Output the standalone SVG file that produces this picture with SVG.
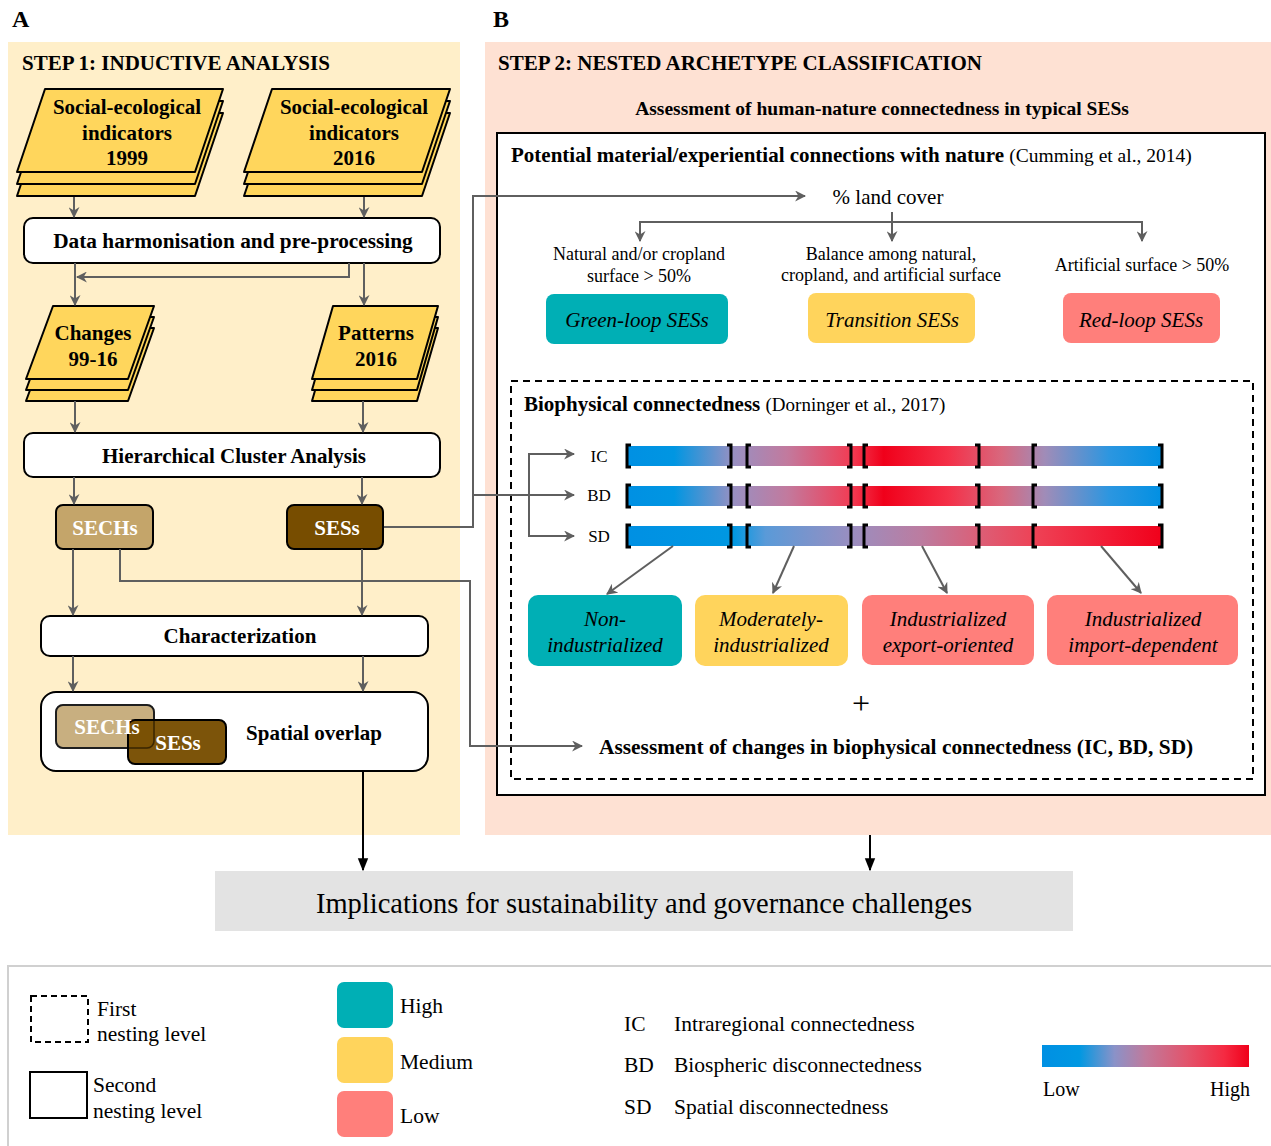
<svg xmlns="http://www.w3.org/2000/svg" width="1271" height="1146" viewBox="0 0 1271 1146">
<defs>
<style>
text{font-family:"Liberation Serif","Times New Roman",serif;fill:#000}
.b{font-weight:bold}
.i{font-style:italic}
.t21{font-size:21px}
.t18{font-size:18px}
.t19{font-size:19px}
.lg{font-size:21.5px}
.mid{text-anchor:middle}
.stk{fill:#FFD65C;stroke:#000;stroke-width:2;stroke-linejoin:round}
.box{fill:#fff;stroke:#000;stroke-width:2}
.con{fill:none;stroke:#5f5f5f;stroke-width:2}
.blk{fill:none;stroke:#000;stroke-width:2}
.brk{fill:none;stroke:#000;stroke-width:3}
.wt{fill:#fff}
</style>
<marker id="ar" viewBox="0 0 10 10" refX="9" refY="5" markerWidth="11" markerHeight="11" markerUnits="userSpaceOnUse" orient="auto">
<path d="M0,0 L10,5 L0,10 L3,5 z" fill="#5f5f5f"/>
</marker>
<marker id="ab" viewBox="0 0 10 10" refX="9" refY="5" markerWidth="13" markerHeight="13" markerUnits="userSpaceOnUse" orient="auto">
<path d="M0,1 L10,5 L0,9 z" fill="#000"/>
</marker>
<linearGradient id="gIC" x1="0" y1="0" x2="1" y2="0">
<stop offset="0" stop-color="#0090E3"/>
<stop offset="0.09" stop-color="#0096E2"/>
<stop offset="0.2" stop-color="#9890C2"/>
<stop offset="0.3" stop-color="#C27A9E"/>
<stop offset="0.42" stop-color="#F23C54"/>
<stop offset="0.48" stop-color="#F0001A"/>
<stop offset="0.6" stop-color="#F43048"/>
<stop offset="0.7" stop-color="#D8687E"/>
<stop offset="0.78" stop-color="#A08CB8"/>
<stop offset="0.9" stop-color="#2C96E0"/>
<stop offset="1" stop-color="#0090E3"/>
</linearGradient>
<linearGradient id="gSD" x1="0" y1="0" x2="1" y2="0">
<stop offset="0" stop-color="#0090E3"/>
<stop offset="0.2" stop-color="#0098E2"/>
<stop offset="0.26" stop-color="#5A9AD8"/>
<stop offset="0.42" stop-color="#9A8EC0"/>
<stop offset="0.55" stop-color="#BC7CA0"/>
<stop offset="0.66" stop-color="#DC5E76"/>
<stop offset="0.76" stop-color="#EE4256"/>
<stop offset="0.9" stop-color="#F21A34"/>
<stop offset="1" stop-color="#F0001A"/>
</linearGradient>
<linearGradient id="gLeg" x1="0" y1="0" x2="1" y2="0">
<stop offset="0" stop-color="#0090E3"/>
<stop offset="0.18" stop-color="#0098E2"/>
<stop offset="0.35" stop-color="#8A92C8"/>
<stop offset="0.5" stop-color="#C07A9C"/>
<stop offset="0.7" stop-color="#E2546C"/>
<stop offset="0.88" stop-color="#F52A42"/>
<stop offset="1" stop-color="#F0001A"/>
</linearGradient>
</defs>

<rect x="0" y="0" width="1271" height="1146" fill="#fff"/>

<g id="panelA">
<rect x="8" y="42" width="452" height="793" fill="#FFEFC9"/>
<text class="b" x="12" y="27" font-size="24">A</text>
<text class="b t21" x="22" y="70">STEP 1: INDUCTIVE ANALYSIS</text>
</g>
<g id="panelB">
<rect x="485" y="42" width="786" height="793" fill="#FEE1D3"/>
<text class="b" x="493" y="27" font-size="24">B</text>
<text class="b t21" x="498" y="70" font-size="21.3">STEP 2: NESTED ARCHETYPE CLASSIFICATION</text>
<text class="b mid" x="882" y="115" font-size="19.5">Assessment of human-nature connectedness in typical SESs</text>
</g>

<g id="stack1999">
<polygon class="stk" points="45,113 223,113 195,196 17,196"/>
<polygon class="stk" points="45,101 223,101 195,184 17,184"/>
<polygon class="stk" points="45,89 223,89 195,172 17,172"/>
<text class="b t21 mid" x="127" y="114">Social-ecological</text>
<text class="b t21 mid" x="127" y="140">indicators</text>
<text class="b t21 mid" x="127" y="165">1999</text>
</g>
<g id="stack2016">
<polygon class="stk" points="272,113 450,113 422,196 244,196"/>
<polygon class="stk" points="272,101 450,101 422,184 244,184"/>
<polygon class="stk" points="272,89 450,89 422,172 244,172"/>
<text class="b t21 mid" x="354" y="114">Social-ecological</text>
<text class="b t21 mid" x="354" y="140">indicators</text>
<text class="b t21 mid" x="354" y="165">2016</text>
</g>
<g id="harmonisation">
<rect class="box" x="24" y="218" width="416" height="45" rx="9"/>
<text class="b mid" x="233" y="248" font-size="21.3">Data harmonisation and pre-processing</text>
</g>
<g id="changes">
<polygon class="stk" points="53,328 154,328 128,401 26,401"/>
<polygon class="stk" points="53,317 154,317 128,390 26,390"/>
<polygon class="stk" points="53,306 154,306 128,379 26,379"/>
<text class="b t21 mid" x="93" y="340">Changes</text>
<text class="b t21 mid" x="93" y="366">99-16</text>
</g>
<g id="patterns">
<polygon class="stk" points="333,328 438,328 417,401 312,401"/>
<polygon class="stk" points="333,317 438,317 417,390 312,390"/>
<polygon class="stk" points="333,306 438,306 417,379 312,379"/>
<text class="b t21 mid" x="376" y="340">Patterns</text>
<text class="b t21 mid" x="376" y="366">2016</text>
</g>
<g id="hca">
<rect class="box" x="24" y="433" width="416" height="44" rx="9"/>
<text class="b t21 mid" x="234" y="463">Hierarchical Cluster Analysis</text>
</g>
<g id="sechs">
<rect x="56" y="505" width="97" height="44" rx="7" fill="#C4A56A" stroke="#000" stroke-width="2"/>
<text class="b t21 mid wt" x="105" y="535">SECHs</text>
</g>
<g id="sess">
<rect x="287" y="505" width="96" height="44" rx="7" fill="#774D00" stroke="#000" stroke-width="2"/>
<text class="b t21 mid wt" x="337" y="535">SESs</text>
</g>
<g id="characterization">
<rect class="box" x="41" y="616" width="387" height="40" rx="9"/>
<text class="b t21 mid" x="240" y="643">Characterization</text>
</g>
<g id="overlap">
<rect class="box" x="41" y="692" width="387" height="79" rx="15"/>
<rect x="56" y="705" width="98" height="43" rx="7" fill="#C8AF80" stroke="#333" stroke-width="2"/>
<rect x="128" y="720" width="98" height="44" rx="7" fill="#774D00" stroke="#000" stroke-width="2" fill-opacity="0.96"/>
<rect x="56" y="705" width="98" height="43" rx="7" fill="none" stroke="#000" stroke-width="1.5" stroke-opacity="0.5"/>
<text class="b t21 mid wt" x="107" y="734">SECHs</text>
<text class="b t21 mid wt" x="178" y="750">SESs</text>
<text class="b t21 mid" x="314" y="740">Spatial overlap</text>
</g>

<g id="connectionsBox">
<rect x="497" y="133" width="768" height="662" fill="#fff" stroke="#000" stroke-width="2"/>
<text x="511" y="162"><tspan class="b t21">Potential material/experiential connections with nature </tspan><tspan font-size="19.5">(Cumming et al., 2014)</tspan></text>
</g>
<g id="landcover">
<text class="mid t21" x="888" y="204">% land cover</text>
</g>
<g id="crit1">
<text class="mid t18" x="639" y="260">Natural and/or cropland</text>
<text class="mid t18" x="639" y="282">surface &gt; 50%</text>
</g>
<g id="crit2">
<text class="mid t18" x="891" y="260">Balance among natural,</text>
<text class="mid t18" x="891" y="281">cropland, and artificial surface</text>
</g>
<g id="crit3">
<text class="mid t18" x="1142" y="271">Artificial surface &gt; 50%</text>
</g>
<g id="greenloop">
<rect x="546" y="294" width="182" height="50" rx="8" fill="#00AFB5"/>
<text class="i t21 mid" x="637" y="327">Green-loop SESs</text>
</g>
<g id="transition">
<rect x="808" y="293" width="167" height="50" rx="8" fill="#FFD45C"/>
<text class="i t21 mid" x="892" y="327">Transition SESs</text>
</g>
<g id="redloop">
<rect x="1063" y="293" width="157" height="50" rx="8" fill="#FF7F7B"/>
<text class="i t21 mid" x="1141" y="327">Red-loop SESs</text>
</g>

<g id="biophysicalBox">
<rect x="511" y="381" width="742" height="398" fill="none" stroke="#000" stroke-width="2" stroke-dasharray="7,5"/>
<text x="524" y="411"><tspan class="b t21">Biophysical connectedness </tspan><tspan class="t19">(Dorninger et al., 2017)</tspan></text>
</g>
<g id="barIC">
<text class="mid" x="599" y="462" font-size="17">IC</text>
<rect x="626" y="446" width="537" height="20" fill="url(#gIC)"/>
</g>
<g id="barBD">
<text class="mid" x="599" y="501" font-size="17">BD</text>
<rect x="626" y="486" width="537" height="20" fill="url(#gIC)"/>
</g>
<g id="barSD">
<text class="mid" x="599" y="542" font-size="17">SD</text>
<rect x="626" y="526" width="537" height="20" fill="url(#gSD)"/>
</g>
<g id="brackets">
<path class="brk" d="M631,445 h-4 v22 h4 M727,445 h4 v22 h-4 M751,445 h-4 v22 h4 M847,445 h4 v22 h-4 M868,445 h-4 v22 h4 M975,445 h4 v22 h-4 M1037,445 h-4 v22 h4 M1158,445 h4 v22 h-4"/>
<path class="brk" d="M631,485 h-4 v22 h4 M727,485 h4 v22 h-4 M751,485 h-4 v22 h4 M847,485 h4 v22 h-4 M868,485 h-4 v22 h4 M975,485 h4 v22 h-4 M1037,485 h-4 v22 h4 M1158,485 h4 v22 h-4"/>
<path class="brk" d="M631,525 h-4 v22 h4 M727,525 h4 v22 h-4 M751,525 h-4 v22 h4 M847,525 h4 v22 h-4 M868,525 h-4 v22 h4 M975,525 h4 v22 h-4 M1037,525 h-4 v22 h4 M1158,525 h4 v22 h-4"/>
</g>
<g id="nonind">
<rect x="528" y="595" width="154" height="71" rx="10" fill="#00AFB5"/>
<text class="i t21 mid" x="605" y="626">Non-</text>
<text class="i t21 mid" x="605" y="652">industrialized</text>
</g>
<g id="modind">
<rect x="695" y="595" width="153" height="71" rx="10" fill="#FFD45C"/>
<text class="i t21 mid" x="771" y="626">Moderately-</text>
<text class="i t21 mid" x="771" y="652">industrialized</text>
</g>
<g id="indexp">
<rect x="862" y="595" width="172" height="70" rx="10" fill="#FF7F7B"/>
<text class="i t21 mid" x="948" y="626">Industrialized</text>
<text class="i t21 mid" x="948" y="652">export-oriented</text>
</g>
<g id="indimp">
<rect x="1047" y="595" width="191" height="70" rx="10" fill="#FF7F7B"/>
<text class="i t21 mid" x="1143" y="626">Industrialized</text>
<text class="i t21 mid" x="1143" y="652">import-dependent</text>
</g>
<g id="plus">
<text class="mid" x="861" y="714" font-size="32">+</text>
</g>
<g id="changesAssess">
<text class="b" x="599" y="754" font-size="21.4">Assessment of changes in biophysical connectedness (IC, BD, SD)</text>
</g>

<g id="implications">
<rect x="215" y="871" width="858" height="60" fill="#E3E3E3"/>
<text class="mid" x="644" y="913" font-size="28.5">Implications for sustainability and governance challenges</text>
</g>

<g id="connectors">
<path class="con" marker-end="url(#ar)" d="M74,197 V217"/>
<path class="con" marker-end="url(#ar)" d="M364,197 V217"/>
<path class="con" marker-end="url(#ar)" d="M349,263 V277 H77"/>
<path class="con" marker-end="url(#ar)" d="M75,263 V305"/>
<path class="con" marker-end="url(#ar)" d="M364,263 V305"/>
<path class="con" marker-end="url(#ar)" d="M75,401 V432"/>
<path class="con" marker-end="url(#ar)" d="M363,401 V432"/>
<path class="con" marker-end="url(#ar)" d="M74,477 V504"/>
<path class="con" marker-end="url(#ar)" d="M362,477 V504"/>
<path class="con" marker-end="url(#ar)" d="M73,549 V615"/>
<path class="con" marker-end="url(#ar)" d="M362,549 V615"/>
<path class="con" marker-end="url(#ar)" d="M120,549 V581 H470 V746 H582"/>
<path class="con" marker-end="url(#ar)" d="M384,527 H473 V196 H805"/>
<path class="con" marker-end="url(#ar)" d="M473,495 H574"/>
<path class="con" marker-end="url(#ar)" d="M529,495 V454 H574"/>
<path class="con" marker-end="url(#ar)" d="M529,495 V536 H574"/>
<path class="con" marker-end="url(#ar)" d="M73,656 V691"/>
<path class="con" marker-end="url(#ar)" d="M363,656 V691"/>
<path class="con" marker-end="url(#ar)" d="M892,212 V241"/>
<path class="con" marker-end="url(#ar)" d="M892,222 H640 V241"/>
<path class="con" marker-end="url(#ar)" d="M892,222 H1142 V241"/>
<path class="con" marker-end="url(#ar)" d="M673,546 L607,594"/>
<path class="con" marker-end="url(#ar)" d="M794,546 L773,593"/>
<path class="con" marker-end="url(#ar)" d="M922,546 L947,593"/>
<path class="con" marker-end="url(#ar)" d="M1101,546 L1141,593"/>
<path class="blk" marker-end="url(#ab)" d="M363,771 V870"/>
<path class="blk" marker-end="url(#ab)" d="M870,835 V870"/>
</g>

<g id="legend">
<path d="M8,1146 V966 H1271" fill="none" stroke="#d0d0d0" stroke-width="2"/>
<rect x="31" y="996" width="57" height="46" fill="none" stroke="#000" stroke-width="2" stroke-dasharray="6,4"/>
<text class="lg" x="97" y="1016">First</text>
<text class="lg" x="97" y="1041">nesting level</text>
<rect x="30" y="1072" width="57" height="46" fill="none" stroke="#000" stroke-width="2"/>
<text class="lg" x="93" y="1092">Second</text>
<text class="lg" x="93" y="1118">nesting level</text>
<rect x="337" y="982" width="56" height="46" rx="7" fill="#00AFB5"/>
<rect x="337" y="1037" width="56" height="46" rx="7" fill="#FFD45C"/>
<rect x="337" y="1091" width="56" height="46" rx="7" fill="#FF7F7B"/>
<text class="lg" x="400" y="1013">High</text>
<text class="lg" x="400" y="1069">Medium</text>
<text class="lg" x="400" y="1123">Low</text>
<text class="lg" x="624" y="1031">IC</text>
<text class="lg" x="674" y="1031">Intraregional connectedness</text>
<text class="lg" x="624" y="1072">BD</text>
<text class="lg" x="674" y="1072">Biospheric disconnectedness</text>
<text class="lg" x="624" y="1114">SD</text>
<text class="lg" x="674" y="1114">Spatial disconnectedness</text>
<rect x="1042" y="1045" width="207" height="22" fill="url(#gLeg)"/>
<text x="1043" y="1096" font-size="20">Low</text>
<text x="1250" y="1096" font-size="20" text-anchor="end">High</text>
</g>
</svg>
